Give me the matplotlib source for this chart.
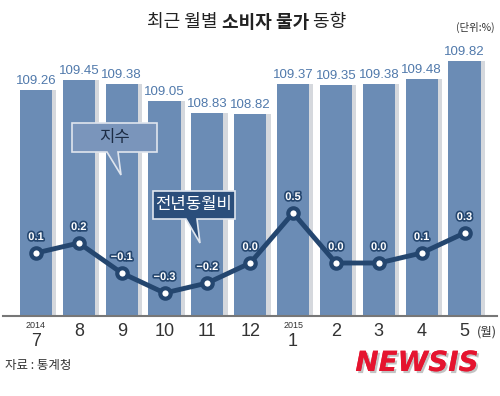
import matplotlib
matplotlib.use('Agg')
import matplotlib.pyplot as plt
import matplotlib.patheffects as pe
from matplotlib.patches import Polygon
import numpy as np

# 데이터
months = ['7', '8', '9', '10', '11', '12', '1', '2', '3', '4', '5']
years = {0: '2014', 6: '2015'}
index_vals = [109.26, 109.45, 109.38, 109.05, 108.83, 108.82,
              109.37, 109.35, 109.38, 109.48, 109.82]
yoy_vals = [0.1, 0.2, -0.1, -0.3, -0.2, 0.0, 0.5, 0.0, 0.0, 0.1, 0.3]

KR = ['Noto Sans CJK KR', 'DejaVu Sans']
NUM = ['Liberation Sans', 'DejaVu Sans']

bar_color = '#6b8cb5'
shadow_color = '#d5d8dd'
line_color = '#24466f'
label_color = '#5079ab'
text_color = '#333333'

W, H = 500, 396
fig = plt.figure(figsize=(5, 3.96), dpi=100)
fig.patch.set_facecolor('white')

# 픽셀 기준 축 위치
ax_l, ax_r, ax_top, ax_bot = 3, 497, 40, 316
ax = fig.add_axes([ax_l / W, (H - ax_bot) / H, (ax_r - ax_l) / W, (ax_bot - ax_top) / H])
x = np.arange(len(months))
px_per_unit = 42.85
ax.set_xlim((ax_l - 36) / px_per_unit, (ax_r - 36) / px_per_unit)
ax.set_ylim(105, 105 + (ax_bot - ax_top) / 53.0)

ax.bar(x + 0.1, index_vals, width=0.75, color=shadow_color, zorder=1)
ax.bar(x, index_vals, width=0.75, color=bar_color, zorder=2)
for xi, v in zip(x, index_vals):
    ax.annotate(f'{v:.2f}', (xi, v), xytext=(0, 3), textcoords='offset pixels',
                ha='center', va='bottom', fontsize=9.5, color=label_color,
                family=NUM, zorder=3)

for s in ['top', 'right', 'left']:
    ax.spines[s].set_visible(False)
ax.spines['bottom'].set_color('#777777')
ax.spines['bottom'].set_linewidth(1.5)
ax.set_yticks([])
ax.set_xticks([])

# 전년동월비 선 (보조 축)
ax2 = ax.twinx()
ax2.set_ylim(-(ax_bot - 263) / 100.0, (263 - ax_top) / 100.0)
ax2.axis('off')
ax2.plot(x, yoy_vals, color=line_color, lw=3.5, zorder=4,
         marker='o', markersize=7.5, markerfacecolor='white',
         markeredgecolor=line_color, markeredgewidth=3)
for xi, v in zip(x, yoy_vals):
    ax2.annotate(f'{v:.1f}'.replace('-', '\u2212'), (xi, v), xytext=(0, 11),
                 textcoords='offset pixels', ha='center', va='bottom',
                 fontsize=8, fontweight='bold', color='white', family=NUM, zorder=5,
                 path_effects=[pe.withStroke(linewidth=2.4, foreground=line_color)])


# 말풍선
def callout(x0, y0, x1, y1, tip, base, fc, tc, text):
    tr = fig.transFigure
    ec = '#dfe5ee'
    shape = [(x0, y0), (x1, y0), (x1, y1), (base[1], y1), tip, (base[0], y1), (x0, y1)]
    poly = Polygon([(a / W, 1 - b / H) for a, b in shape], closed=True, transform=tr,
                   facecolor=fc, edgecolor=ec, lw=1.2, zorder=6)
    fig.patches.append(poly)
    fig.text((x0 + x1) / 2 / W, 1 - (y0 + y1) / 2 / H, text, ha='center', va='center',
             fontsize=12, color=tc, family=KR, zorder=8)

callout(72, 123, 157, 152, (121, 175), (107, 118), '#7a95bb', '#1c2c44', '지수')
callout(153, 191, 235, 219, (200, 243), (186, 197), '#2b4e7b', 'white', '전년동월비')

# x축 라벨
for xi, m in zip(x, months):
    px = 36 + xi * px_per_unit
    if xi in years:
        fig.text(px / W, 1 - 325.5 / H, years[xi], ha='center', va='center',
                 fontsize=6.5, color=text_color, family=NUM)
        fig.text(px / W, 1 - 341 / H, m, ha='center', va='center',
                 fontsize=13, color=text_color, family=NUM)
    else:
        fig.text(px / W, 1 - 332 / H, m, ha='center', va='center',
                 fontsize=13, color=text_color, family=NUM)
fig.text(487 / W, 1 - 332 / H, '(월)', ha='center', va='center',
         fontsize=9, color=text_color, family=KR)

# 제목 (일부 굵게)
fig.canvas.draw()
r = fig.canvas.get_renderer()
parts = [('최근 월별 ', 'normal'), ('소비자 물가', 'bold'), (' 동향', 'normal')]
cx = 147
for s, w in parts:
    tt = fig.text(cx / W, 1 - 22 / H, s, ha='left', va='center', fontsize=13,
                  fontweight=w, color='#222222', family=KR)
    cx += tt.get_window_extent(renderer=r).width

fig.text(475 / W, 1 - 27 / H, '(단위:%)', ha='center', va='center',
         fontsize=7.5, color=text_color, family=KR)
fig.text(5 / W, 1 - 365 / H, '자료 : 통계청', ha='left', va='center',
         fontsize=9, color=text_color, family=KR)

# 로고
fig.text(417 / W, 1 - 363 / H, 'NEWSIS', ha='center', va='center', fontsize=20,
         fontweight='heavy', style='italic', color='#e5142f', family=['DejaVu Sans'],
         path_effects=[pe.withSimplePatchShadow(offset=(1.5, -1.5), shadow_rgbFace='#888888', alpha=0.5),
                       pe.Normal()])

fig.savefig('out.png', dpi=100, facecolor='white')
